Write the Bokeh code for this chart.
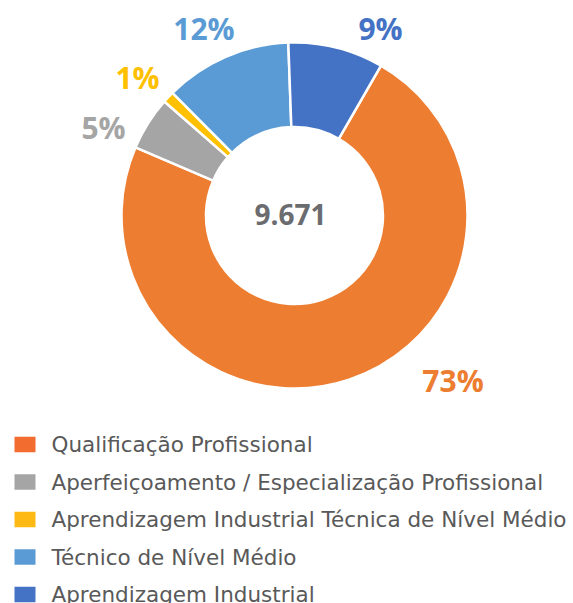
import math
from bokeh.plotting import figure
from bokeh.models import Range1d, ColumnDataSource
from bokeh.core.properties import value
from bokeh.embed import file_html
from bokeh.resources import INLINE

# ---- data ----
categories = [
    "Qualificação Profissional",
    "Aperfeiçoamento / Especialização Profissional",
    "Aprendizagem Industrial Técnica de Nível Médio",
    "Técnico de Nível Médio",
    "Aprendizagem Industrial",
]
counts = [7070, 485, 105, 1150, 861]
total_label = "9.671"

# ---- styles ----
slice_colors = ["#ED7D31", "#A5A5A5", "#FFC000", "#5B9BD5", "#4472C4"]
legend_colors = ["#F26B2F", "#A5A5A5", "#FFB914", "#5B9BD5", "#4472C4"]
first_slice_angle = 30.0  # degrees clockwise from 12 o'clock
# label anchor offsets (px) from donut centre
label_dx = [158.5, -191.0, -157.0, -90.6, 86.0]
label_dy = [-164.7, 88.0, 138.3, 187.5, 187.0]

W, H = 573, 603
ox, oy = 0, 0      # canvas origin in screenshot pixels
cx, cy = 294, 215  # donut centre in screenshot pixels

total = sum(counts)
starts, ends = [], []
acc = first_slice_angle
for c in counts:
    a1 = acc
    a2 = acc + c / total * 360.0
    acc = a2
    # convert clockwise-from-top to bokeh (ccw from +x)
    starts.append(math.radians(90 - a2))
    ends.append(math.radians(90 - a1))

pct = [f"{round(c / total * 100)}%" for c in counts]

p = figure(width=W, height=H, output_backend="svg", toolbar_location=None,
           x_range=Range1d(ox - cx, ox + W - cx), y_range=Range1d(cy - oy - H, cy - oy),
           min_border=0, outline_line_color=None)
p.axis.visible = False
p.grid.visible = False
p.background_fill_color = "white"
p.border_fill_color = "white"

src = ColumnDataSource(dict(start=starts, end=ends, color=slice_colors, cat=categories))
p.annular_wedge(x=0, y=0, inner_radius=88.5, outer_radius=173,
                start_angle="start", end_angle="end", fill_color="color",
                line_color="white", line_width=2.5, source=src)

# percentage labels
lsrc = ColumnDataSource(dict(x=label_dx, y=label_dy, t=pct, color=slice_colors))
p.text(x="x", y="y", text="t", text_color="color", source=lsrc,
       text_font=value("Open Sans"), text_font_style="bold", text_font_size="30px",
       text_align="center", text_baseline="middle")

# centre total
p.text(x=[-4], y=[1], text=[total_label], text_color="#6B6C6F",
       text_font=value("Open Sans"), text_font_style="bold", text_font_size="28px",
       text_align="center", text_baseline="middle")

# legend
row_y = [cy - (444 + 37.5 * i) for i in range(len(categories))]
sq_x = [24.5 - cx] * len(categories)
p.rect(x=sq_x, y=row_y, width=21, height=15.5, fill_color=legend_colors, line_color=None)
p.text(x=[51 - cx] * len(categories), y=row_y, text=categories, text_color="#595959",
       text_font=value("DejaVu Sans"), text_font_size="21.5px",
       text_align="left", text_baseline="middle")

open("out.html", "w").write(file_html(p, INLINE))
